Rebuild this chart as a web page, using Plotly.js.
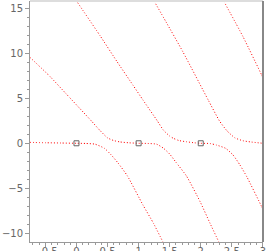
<!DOCTYPE html>
<html>
<head>
<meta charset="utf-8">
<script src="https://cdn.plot.ly/plotly-3.0.1.min.js"></script>
<style>
html,body{margin:0;padding:0;background:#fff;overflow:hidden;}
#chart{width:266px;height:251px;}
</style>
</head>
<body>
<div id="chart"></div>
<script>
// Solution curves
const curveA_x = [-0.75, -0.5, -0.25, 0, 0.15, 0.3, 0.45, 0.56, 0.67, 0.82, 1.07, 1.24, 1.39];
const curveA_y = [0.1, 0.06, 0.03, 0, -0.02, -0.1, -0.56, -1.3, -2.2, -3.63, -6.86, -8.9, -10.95];

const curveB_x = [-0.75, -0.43, -0.16, 0.11, 0.24, 0.37, 0.5, 0.6, 0.7, 0.85, 1, 1.15, 1.29, 1.4, 1.5, 1.6, 1.77, 1.99, 2.15, 2.29];
const curveB_y = [9.56, 7.45, 5.45, 3.45, 2.48, 1.48, 0.6, 0.3, 0.15, 0.05, 0, -0.02, -0.1, -0.55, -1.2, -2.1, -3.63, -6.49, -8.9, -10.95];

const curveC_x = [-0.01, 0.38, 0.65, 0.91, 1.07, 1.3, 1.4, 1.5, 1.56, 1.65, 1.77, 1.9, 2, 2.15, 2.25, 2.4, 2.52, 2.63, 2.74, 2.98, 3.0];
const curveC_y = [15.92, 11.95, 9.1, 6.45, 4.81, 2.5, 1.45, 0.8, 0.55, 0.3, 0.17, 0.05, 0, -0.03, -0.19, -0.56, -1.3, -2.4, -3.7, -7.04, -7.35];

const curveD_x = [1.25, 1.44, 1.71, 2.12, 2.3, 2.42, 2.55, 2.68, 2.8, 3.0];
const curveD_y = [15.8, 13.5, 10.2, 4.81, 2.5, 1.4, 0.6, 0.28, 0.15, 0];

const curveE_x = [2.37, 2.68, 2.98, 3.0];
const curveE_y = [15.8, 11.85, 7.59, 7.3];

// Initial-condition markers
const markX = [0, 1, 2];
const markY = [0, 0, 0];

const curves = [
  [curveA_x, curveA_y], [curveB_x, curveB_y], [curveC_x, curveC_y],
  [curveD_x, curveD_y], [curveE_x, curveE_y]
];

const traces = curves.map(c => ({
  x: c[0], y: c[1], type: 'scatter', mode: 'lines',
  line: {color: 'rgb(255,0,0)', width: 1, dash: '1px,2px', shape: 'spline', smoothing: 0.5},
  hoverinfo: 'none', showlegend: false
}));

traces.push({
  x: markX, y: markY, type: 'scatter', mode: 'markers',
  marker: {symbol: 'square-open', size: 5, color: '#666', line: {width: 1, color: '#666'}},
  hoverinfo: 'none', showlegend: false
});

const axisCommon = {
  showgrid: false, zeroline: false, showline: true, linecolor: '#999', linewidth: 1,
  ticks: 'outside', ticklen: 4, tickwidth: 1, tickcolor: '#999',
  tickfont: {family: 'DejaVu Sans', size: 10, color: '#666'},
  automargin: false, fixedrange: true, ticklabeloverflow: 'allow'
};

const layout = {
  width: 266, height: 251,
  margin: {l: 30, r: 3, t: 1, b: 9, pad: 0},
  paper_bgcolor: '#fff', plot_bgcolor: '#fff',
  showlegend: false,
  xaxis: Object.assign({}, axisCommon, {
    range: [-0.748, 3.002], dtick: 0.5, tick0: 0, ticklabelstandoff: -4,
    minor: {dtick: 0.1, ticklen: 2, tickcolor: '#999', ticks: 'outside'}
  }),
  yaxis: Object.assign({}, axisCommon, {
    range: [-10.97, 15.81], dtick: 5, tick0: 0,
    minor: {dtick: 1, ticklen: 2, tickcolor: '#999', ticks: 'outside'}
  }),
  shapes: [
    {type: 'line', xref: 'paper', yref: 'paper', x0: 0, x1: 1, y0: 1, y1: 1,
     line: {color: '#ddd', width: 2}},
    {type: 'line', xref: 'paper', yref: 'paper', x0: 1, x1: 1, y0: 0, y1: 1,
     line: {color: '#888', width: 2}}
  ]
};

Plotly.newPlot('chart', traces, layout, {staticPlot: true, displayModeBar: false});
</script>
</body>
</html>
